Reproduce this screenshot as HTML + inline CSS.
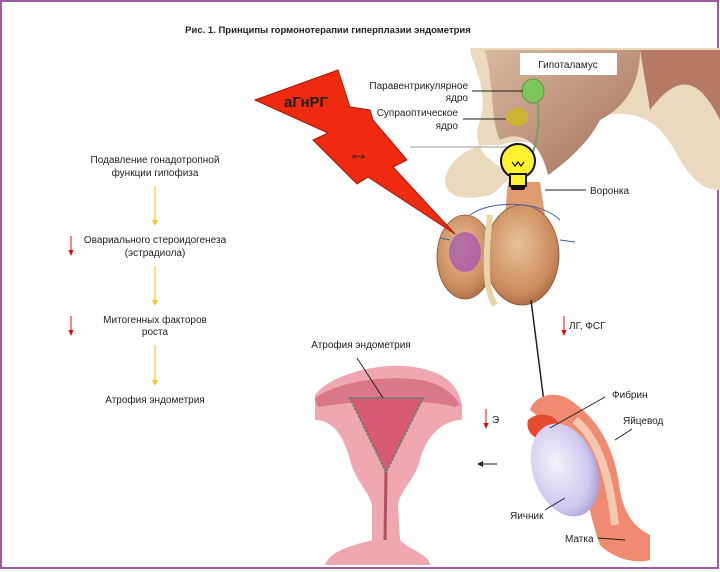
<!DOCTYPE html>
<html><head><meta charset="utf-8"><style>
html,body{margin:0;padding:0;background:#fff}
svg{display:block}
text{font-family:"Liberation Sans",Arial,sans-serif;fill:#222}
</style></head><body>
<svg width="720" height="572" viewBox="0 0 720 572" xmlns="http://www.w3.org/2000/svg">
<defs>
<radialGradient id="pit" cx="0.45" cy="0.4" r="0.7"><stop offset="0" stop-color="#e8c39a"/><stop offset="0.7" stop-color="#c98a5c"/><stop offset="1" stop-color="#9a5a3a"/></radialGradient>
<radialGradient id="ov" cx="0.4" cy="0.4" r="0.7"><stop offset="0" stop-color="#f4f2fb"/><stop offset="0.7" stop-color="#cfc8ee"/><stop offset="1" stop-color="#9c90d0"/></radialGradient>
<linearGradient id="hyp" x1="0" y1="0" x2="1" y2="1"><stop offset="0" stop-color="#d8b8a0"/><stop offset="1" stop-color="#a5705a"/></linearGradient>
</defs>
<rect x="1" y="1" width="717" height="567" fill="none" stroke="#a05aa0" stroke-width="2"/>
<text x="328" y="33" font-size="9.5" font-weight="bold" text-anchor="middle">Рис. 1. Принципы гормонотерапии гиперплазии эндометрия</text>

<g font-size="10" text-anchor="middle">
<text x="155" y="163">Подавление гонадотропной</text>
<text x="155" y="176">функции гипофиза</text>
<text x="155" y="243">Овариального стероидогенеза</text>
<text x="155" y="256">(эстрадиола)</text>
<text x="155" y="323">Митогенных факторов</text>
<text x="155" y="335">роста</text>
<text x="155" y="403">Атрофия эндометрия</text>
</g>
<g stroke="#f5c430" stroke-width="1.2" fill="#f5c430">
<line x1="155" y1="186" x2="155" y2="222"/><path d="M152,220 L158,220 L155,226Z" stroke="none"/>
<line x1="155" y1="266" x2="155" y2="302"/><path d="M152,300 L158,300 L155,306Z" stroke="none"/>
<line x1="155" y1="345" x2="155" y2="382"/><path d="M152,380 L158,380 L155,386Z" stroke="none"/>
</g>
<g stroke="#e33" stroke-width="1.2" fill="#e00">
<line x1="71" y1="236" x2="71" y2="252"/><path d="M68.5,250 L73.5,250 L71,256Z" stroke="none"/>
<line x1="71" y1="316" x2="71" y2="332"/><path d="M68.5,330 L73.5,330 L71,336Z" stroke="none"/>
<line x1="564" y1="316" x2="564" y2="332"/><path d="M561.5,330 L566.5,330 L564,336Z" stroke="none"/>
<line x1="486" y1="409" x2="486" y2="425"/><path d="M483.5,423 L488.5,423 L486,429Z" stroke="none"/>
</g>

<!-- hypothalamus -->
<path d="M470,48 L720,48 L720,190 C700,190 690,175 680,160 C660,120 640,110 600,115 C580,150 560,160 550,175 L540,150 C530,140 520,140 500,145 L490,145 C470,145 448,160 445,180 C445,200 470,200 490,195 C500,190 505,180 510,180 L505,170 C490,160 470,150 480,120 C490,90 470,60 470,48Z" fill="#ead9bf"/>
<path d="M485,50 L640,50 C640,90 620,110 600,120 C590,140 570,160 548,175 C540,140 520,130 500,140 C490,120 495,90 485,50Z" fill="url(#hyp)"/>
<path d="M640,50 L720,50 L720,120 C700,80 680,70 650,110Z" fill="#b57b62"/>
<rect x="520" y="53" width="97" height="22" fill="#fff"/>
<text x="568" y="68" font-size="10" text-anchor="middle">Гипоталамус</text>
<ellipse cx="533" cy="91" rx="11" ry="12" fill="#7cc65a" stroke="#5a9a3a"/>
<ellipse cx="517" cy="117" rx="11" ry="9" fill="#cdb430"/>
<path d="M538,100 C540,130 536,145 530,160" stroke="#7aa060" stroke-width="2" fill="none"/>
<g font-size="10" text-anchor="end">
<text x="468" y="89">Паравентрикулярное</text>
<text x="468" y="101">ядро</text>
<text x="458" y="116">Супраоптическое</text>
<text x="458" y="129">ядро</text>
</g>
<line x1="472" y1="91" x2="523" y2="91" stroke="#222"/>
<line x1="463" y1="119" x2="506" y2="119" stroke="#222"/>
<line x1="410" y1="147" x2="515" y2="147" stroke="#999"/>

<!-- pituitary -->
<path d="M508,182 L540,182 L545,215 L505,215Z" fill="#e09a70"/>
<ellipse cx="465" cy="257" rx="28" ry="42" fill="url(#pit)" stroke="#8a5030" stroke-width="0.8"/>
<ellipse cx="522" cy="255" rx="37" ry="50" fill="url(#pit)" stroke="#8a5030" stroke-width="0.8"/>
<ellipse cx="465" cy="252" rx="16" ry="20" fill="#a050b0" opacity="0.7"/>
<path d="M490,215 C485,260 485,290 495,305" stroke="#e8d4a8" stroke-width="6" fill="none"/>
<path d="M470,215 C490,200 540,200 560,220 M450,240 L440,238 M560,240 L575,242" stroke="#4060a0" fill="none"/>
<line x1="545" y1="190" x2="586" y2="190" stroke="#222"/>
<text x="590" y="194" font-size="10">Воронка</text>
<circle cx="518" cy="161" r="17" fill="#fff230" stroke="#111" stroke-width="2"/>
<rect x="510" y="174" width="16" height="12" fill="#fff230" stroke="#111" stroke-width="2"/>
<rect x="511" y="185" width="14" height="5" rx="2" fill="#111"/>
<path d="M512,162 l3,4 3,-4 3,4 3,-4" stroke="#111" fill="none" stroke-width="1.2"/>

<!-- lightning -->
<path d="M255,100 L338,70 L350,107 L370,110 L373,120 L407,160 L393,167 L455,234 L368,177 L357,184 L313,140 L328,133Z" fill="#f02a10" stroke="#a01808" stroke-width="1"/>
<text x="284" y="107" font-size="15" font-weight="bold" fill="#222">аГнРГ</text>
<text x="352" y="159" font-size="9" font-weight="bold" fill="#222">«-»</text>

<line x1="531" y1="300" x2="545" y2="410" stroke="#222" stroke-width="1.5"/>
<text x="569" y="329" font-size="10">ЛГ, ФСГ</text>

<!-- uterus -->
<path d="M315,395 C330,375 380,360 420,368 C445,373 458,385 462,405 L462,420 C440,420 425,440 420,460 C415,480 400,490 398,505 L400,540 C410,550 430,555 430,565 L325,565 C330,550 355,545 372,540 L372,505 C368,490 355,480 350,460 C345,440 335,420 315,420Z" fill="#f0a8b0"/>
<path d="M315,398 C340,380 390,375 420,380 C440,383 452,392 460,405 L455,407 C430,400 370,398 318,407Z" fill="#d97888"/>
<path d="M350,398 L423,398 L386,472Z" fill="#d85a70" stroke="#777" stroke-width="2" stroke-dasharray="3,1"/>
<path d="M386,472 L385,540" stroke="#b05060" stroke-width="3"/>
<text x="361" y="348" font-size="10" text-anchor="middle">Атрофия эндометрия</text>
<line x1="357" y1="358" x2="383" y2="398" stroke="#222"/>
<text x="492" y="423" font-size="10">Э</text>
<line x1="481" y1="464" x2="497" y2="464" stroke="#222"/>
<path d="M477,464 L483,461 L483,467Z" fill="#222"/>

<!-- ovary & tube -->
<path d="M530,410 C535,395 555,390 570,400 C600,420 615,450 620,490 C625,520 640,530 650,535 L650,560 C630,565 610,555 600,545 C590,520 585,470 555,430Z" fill="#f08a70"/>
<path d="M528,420 C540,410 555,415 560,425 L545,440 C535,440 525,432 528,420Z" fill="#e84a30"/>
<ellipse cx="565" cy="470" rx="32" ry="48" transform="rotate(-20 565 470)" fill="url(#ov)"/>
<path d="M575,420 C600,440 610,480 615,525" stroke="#f4d8c0" stroke-width="8" fill="none" opacity="0.8"/>
<line x1="550" y1="428" x2="605" y2="397" stroke="#222"/>
<text x="612" y="398" font-size="10">Фибрин</text>
<line x1="615" y1="440" x2="632" y2="429" stroke="#222"/>
<text x="623" y="424" font-size="10">Яйцевод</text>
<line x1="545" y1="510" x2="565" y2="498" stroke="#222"/>
<text x="510" y="519" font-size="10">Яичник</text>
<line x1="598" y1="538" x2="625" y2="540" stroke="#222"/>
<text x="565" y="542" font-size="10">Матка</text>
</svg>
</body></html>
